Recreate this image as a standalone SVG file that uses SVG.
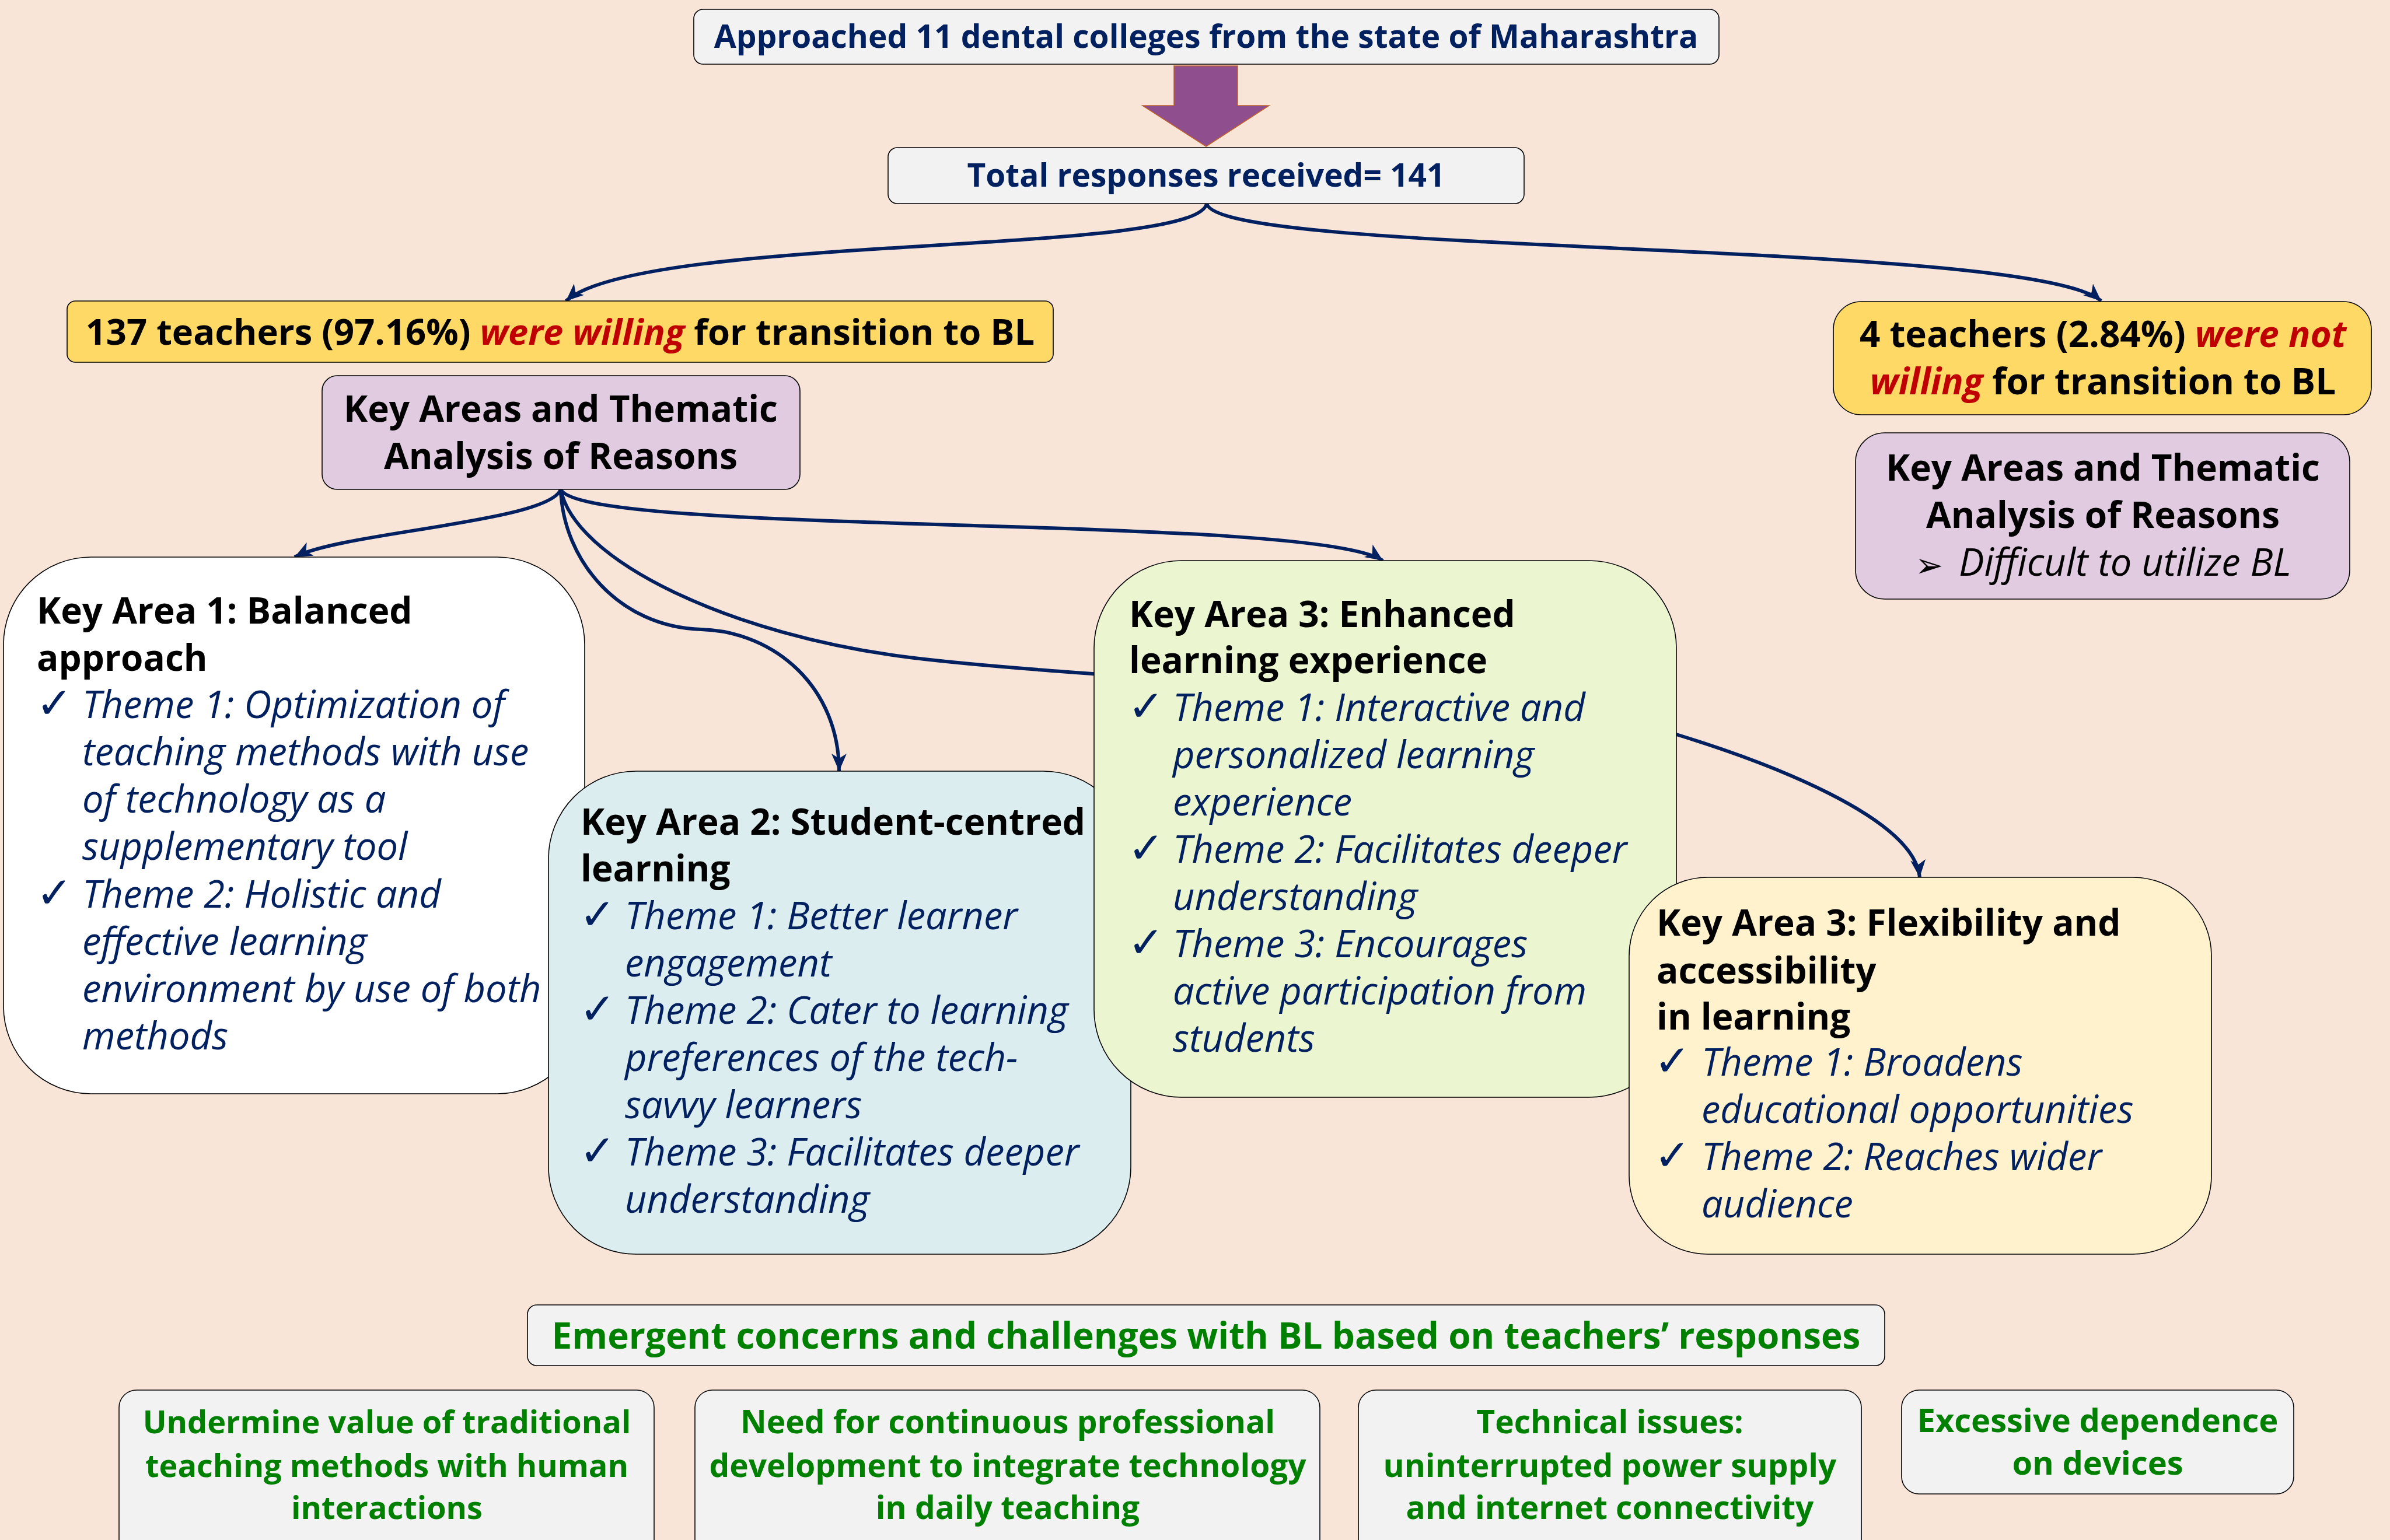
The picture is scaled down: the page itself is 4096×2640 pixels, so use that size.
<svg xmlns="http://www.w3.org/2000/svg" width="4096" height="2640" viewBox="0 0 4096 2640">
<defs>
<marker id="ah" markerUnits="userSpaceOnUse" markerWidth="36" markerHeight="30" refX="30" refY="13" orient="auto">
<path d="M0,0 L30,13 L0,26 L8,13 Z" fill="#002060"/>
</marker>
<style>
.box{stroke:#000;stroke-width:1.6}
.grey{fill:#F2F2F2}
.t{font-family:"Open Sans","Liberation Sans",sans-serif;font-weight:700}
.nav{fill:#002060}
.blk{fill:#000}
.red{fill:#C00000;font-style:italic}
.grn{fill:#008000}
.it{font-family:"Open Sans","Liberation Sans",sans-serif;font-style:italic;fill:#002060;font-size:65px}
.hd{font-family:"Open Sans","Liberation Sans",sans-serif;font-weight:700;fill:#000;font-size:62px}
.ck{font-family:"DejaVu Sans",sans-serif;font-weight:700;fill:#002060;font-size:74px}
.con{fill:none;stroke:#002060;stroke-width:6;marker-end:url(#ah)}
</style>
</defs>
<rect width="4096" height="2640" fill="#F9E5D8"/>

<g id="connectors">
<path class="con" d="M2068,349 C2050,440 1100,400 970,516"/>
<path class="con" d="M2068,349 C2090,440 3480,410 3601,516"/>
<path class="con" d="M961,839 C940,895 588,912 505,955"/>
<path class="con" d="M961,839 C965,960 1060,1075 1202,1079 C1330,1083 1438,1180 1438,1322"/>
<path class="con" d="M961,839 C1000,920 2250,880 2370,961"/>
<path class="con" d="M961,839 C985,960 1250,1090 1567,1128 C1900,1168 2650,1190 2873,1259 C3023,1305 3280,1400 3290,1504"/>
<polygon id="block-arrow" points="2012,113 2121,113 2121,181 2175,181 2067,251 1958,181 2012,181" fill="#8F4F8F" stroke="#C0612B" stroke-width="1.5"/>
</g>

<g id="approached">
<rect class="box grey" x="1189" y="16" width="1757" height="94" rx="16"/>
<text class="t nav" x="2067" y="82" font-size="55" text-anchor="middle">Approached 11 dental colleges from the state of Maharashtra</text>
</g>

<g id="total">
<rect class="box grey" x="1522" y="253" width="1090" height="96" rx="16"/>
<text class="t nav" x="2067" y="320" font-size="55" text-anchor="middle">Total responses received= 141</text>
</g>

<g id="willing">
<rect class="box" x="115" y="516" width="1690" height="105" rx="14" fill="#FFD966"/>
<text class="t blk" x="960" y="591" font-size="61.5" text-anchor="middle">137 teachers (97.16%) <tspan class="red">were willing</tspan> for transition to BL</text>
</g>

<g id="keyareas-left">
<rect class="box" x="552" y="644" width="819" height="195" rx="26" fill="#E1CBE1"/>
<text class="hd" x="961" y="723" font-size="60" text-anchor="middle">Key Areas and Thematic</text>
<text class="hd" x="961" y="804" font-size="60" text-anchor="middle">Analysis of Reasons</text>
</g>

<g id="notwilling">
<rect class="box" x="3142" y="517" width="922" height="194" rx="48" fill="#FFD966"/>
<text class="t blk" x="3604" y="595" font-size="62" text-anchor="middle">4 teachers (2.84%) <tspan class="red">were not</tspan></text>
<text class="t blk" x="3604" y="676" font-size="62" text-anchor="middle"><tspan class="red">willing</tspan> for transition to BL</text>
</g>

<g id="keyareas-right">
<rect class="box" x="3180" y="742" width="847" height="285" rx="50" fill="#E1CBE1"/>
<text class="hd" x="3604" y="824" font-size="60" text-anchor="middle">Key Areas and Thematic</text>
<text class="hd" x="3604" y="905" font-size="60" text-anchor="middle">Analysis of Reasons</text>
<text x="3282" y="989" font-family="DejaVu Sans,sans-serif" font-size="58" fill="#000">➢</text>
<text x="3357" y="987" font-family="Open Sans,Liberation Sans,sans-serif" font-style="italic" font-size="65" fill="#000">Difficult to utilize BL</text>
</g>

<g id="keyarea1">
<rect class="box" x="6" y="955" width="996" height="920" rx="150" fill="#FFFFFF"/>
<text class="hd" x="63" y="1069">Key Area 1: Balanced</text>
<text class="hd" x="63" y="1150">approach</text>
<text class="ck" x="62" y="1231">✓</text>
<text class="ck" x="62" y="1556">✓</text>
<text class="it" x="141" y="1231">Theme 1: Optimization of</text>
<text class="it" x="141" y="1312">teaching methods with use</text>
<text class="it" x="141" y="1393">of technology as a</text>
<text class="it" x="141" y="1474">supplementary tool</text>
<text class="it" x="141" y="1556">Theme 2: Holistic and</text>
<text class="it" x="141" y="1637">effective learning</text>
<text class="it" x="141" y="1718">environment by use of both</text>
<text class="it" x="141" y="1799">methods</text>
</g>

<g id="keyarea2">
<rect class="box" x="940" y="1322" width="998" height="828" rx="150" fill="#DCEDF0"/>
<text class="hd" x="995" y="1431">Key Area 2: Student-centred</text>
<text class="hd" x="995" y="1511">learning</text>
<text class="ck" x="993" y="1593">✓</text>
<text class="ck" x="993" y="1755">✓</text>
<text class="ck" x="993" y="1998">✓</text>
<text class="it" x="1071" y="1593">Theme 1: Better learner</text>
<text class="it" x="1071" y="1674">engagement</text>
<text class="it" x="1071" y="1755">Theme 2: Cater to learning</text>
<text class="it" x="1071" y="1836">preferences of the tech-</text>
<text class="it" x="1071" y="1917">savvy learners</text>
<text class="it" x="1071" y="1998">Theme 3: Facilitates deeper</text>
<text class="it" x="1071" y="2079">understanding</text>
</g>

<g id="keyarea3">
<rect class="box" x="1875" y="961" width="998" height="920" rx="150" fill="#EBF6D1"/>
<text class="hd" x="1935" y="1075">Key Area 3: Enhanced</text>
<text class="hd" x="1935" y="1154">learning experience</text>
<text class="ck" x="1933" y="1236">✓</text>
<text class="ck" x="1933" y="1479">✓</text>
<text class="ck" x="1933" y="1641">✓</text>
<text class="it" x="2010" y="1236">Theme 1: Interactive and</text>
<text class="it" x="2010" y="1317">personalized learning</text>
<text class="it" x="2010" y="1398">experience</text>
<text class="it" x="2010" y="1479">Theme 2: Facilitates deeper</text>
<text class="it" x="2010" y="1560">understanding</text>
<text class="it" x="2010" y="1641">Theme 3: Encourages</text>
<text class="it" x="2010" y="1722">active participation from</text>
<text class="it" x="2010" y="1803">students</text>
</g>

<g id="keyarea3-flex">
<rect class="box" x="2792" y="1504" width="998" height="646" rx="135" fill="#FFF2CC"/>
<text class="hd" x="2839" y="1604">Key Area 3: Flexibility and</text>
<text class="hd" x="2839" y="1686">accessibility</text>
<text class="hd" x="2839" y="1765">in learning</text>
<text class="ck" x="2835" y="1844">✓</text>
<text class="ck" x="2835" y="2006">✓</text>
<text class="it" x="2916" y="1844">Theme 1: Broadens</text>
<text class="it" x="2916" y="1925">educational opportunities</text>
<text class="it" x="2916" y="2006">Theme 2: Reaches wider</text>
<text class="it" x="2916" y="2087">audience</text>
</g>

<g id="emergent">
<rect class="box grey" x="904" y="2237" width="2326" height="104" rx="16"/>
<text class="t grn" x="2067" y="2312" font-size="62" text-anchor="middle">Emergent concerns and challenges with BL based on teachers’ responses</text>
</g>

<g id="concern1">
<rect class="box grey" x="204" y="2383" width="917" height="300" rx="30"/>
<text class="t grn" font-size="54" text-anchor="middle"><tspan x="663" y="2457">Undermine value of traditional</tspan><tspan x="663" y="2532">teaching methods with human</tspan><tspan x="663" y="2604">interactions</tspan></text>
</g>

<g id="concern2">
<rect class="box grey" x="1191" y="2383" width="1071" height="300" rx="30"/>
<text class="t grn" font-size="55" text-anchor="middle"><tspan x="1727" y="2457">Need for continuous professional</tspan><tspan x="1727" y="2532">development to integrate technology</tspan><tspan x="1727" y="2604">in daily teaching</tspan></text>
</g>

<g id="concern3">
<rect class="box grey" x="2328" y="2383" width="862" height="300" rx="30"/>
<text class="t grn" font-size="55" text-anchor="middle"><tspan x="2759" y="2457">Technical issues:</tspan><tspan x="2759" y="2532">uninterrupted power supply</tspan><tspan x="2759" y="2604">and internet connectivity</tspan></text>
</g>

<g id="concern4">
<rect class="box grey" x="3259" y="2383" width="672" height="178" rx="30"/>
<text class="t grn" font-size="56" text-anchor="middle"><tspan x="3595" y="2455">Excessive dependence</tspan><tspan x="3595" y="2528">on devices</tspan></text>
</g>
</svg>
